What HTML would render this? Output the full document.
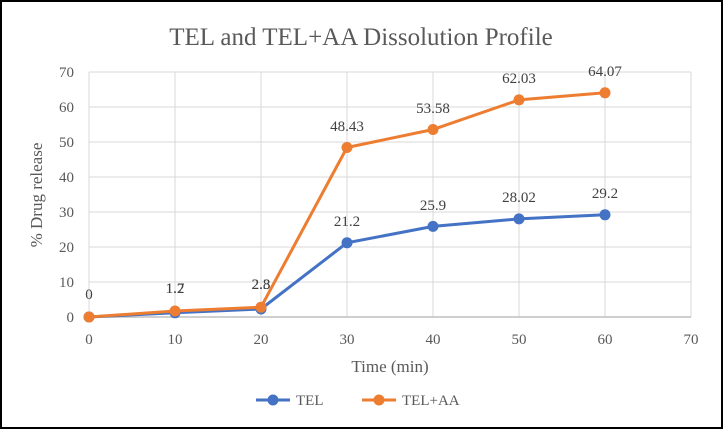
<!DOCTYPE html>
<html><head><meta charset="utf-8"><style>
html,body{margin:0;padding:0;background:#fff}
svg{display:block}
text{font-family:"Liberation Serif",serif}
</style></head><body>
<svg width="723" height="429" viewBox="0 0 723 429">
<rect x="1" y="1" width="721" height="427" fill="#fff" stroke="#000" stroke-width="2"/>
<text x="361" y="45" font-size="25" fill="#595959" text-anchor="middle">TEL and TEL+AA Dissolution Profile</text>
<g stroke="#d9d9d9" stroke-width="1">
<line x1="89" y1="72" x2="691" y2="72"/><line x1="89" y1="107" x2="691" y2="107"/>
<line x1="89" y1="142" x2="691" y2="142"/><line x1="89" y1="177" x2="691" y2="177"/>
<line x1="89" y1="212" x2="691" y2="212"/><line x1="89" y1="247" x2="691" y2="247"/>
<line x1="89" y1="282" x2="691" y2="282"/>
<line x1="89" y1="72" x2="89" y2="317"/><line x1="175" y1="72" x2="175" y2="317"/>
<line x1="261" y1="72" x2="261" y2="317"/><line x1="347" y1="72" x2="347" y2="317"/>
<line x1="433" y1="72" x2="433" y2="317"/><line x1="519" y1="72" x2="519" y2="317"/>
<line x1="605" y1="72" x2="605" y2="317"/><line x1="691" y1="72" x2="691" y2="317"/>
</g>
<line x1="89" y1="317" x2="691" y2="317" stroke="#bfbfbf" stroke-width="1.5"/>
<g font-size="15" fill="#595959" text-anchor="end">
<text x="74" y="322">0</text><text x="74" y="287">10</text><text x="74" y="252">20</text>
<text x="74" y="217">30</text><text x="74" y="182">40</text><text x="74" y="147">50</text>
<text x="74" y="112">60</text><text x="74" y="77">70</text>
</g>
<g font-size="15" fill="#595959" text-anchor="middle">
<text x="89" y="344">0</text><text x="175" y="344">10</text><text x="261" y="344">20</text>
<text x="347" y="344">30</text><text x="433" y="344">40</text><text x="519" y="344">50</text>
<text x="605" y="344">60</text><text x="691" y="344">70</text>
</g>
<text x="390" y="372" font-size="17" fill="#595959" text-anchor="middle">Time (min)</text>
<text transform="translate(42,195) rotate(-90)" font-size="17" fill="#595959" text-anchor="middle">% Drug release</text>
<polyline fill="none" stroke="#4472c4" stroke-width="3" points="89,317 175,312.8 261,309 347,242.8 433,226.4 519,218.9 605,214.8"/>
<g fill="#4472c4">
<circle cx="89" cy="317" r="5.5"/><circle cx="175" cy="312.8" r="5.5"/><circle cx="261" cy="309" r="5.5"/>
<circle cx="347" cy="242.8" r="5.5"/><circle cx="433" cy="226.4" r="5.5"/><circle cx="519" cy="218.9" r="5.5"/><circle cx="605" cy="214.8" r="5.5"/>
</g>
<polyline fill="none" stroke="#ed7d31" stroke-width="3" points="89,317 175,311 261,307.2 347,147.5 433,129.5 519,99.9 605,92.8"/>
<g fill="#ed7d31">
<circle cx="89" cy="317" r="5.5"/><circle cx="175" cy="311" r="5.5"/><circle cx="261" cy="307.2" r="5.5"/>
<circle cx="347" cy="147.5" r="5.5"/><circle cx="433" cy="129.5" r="5.5"/><circle cx="519" cy="99.9" r="5.5"/><circle cx="605" cy="92.8" r="5.5"/>
</g>
<g font-size="15" fill="#404040" text-anchor="middle">
<text x="89" y="299">0</text><text x="175" y="293">1.2</text><text x="175" y="293">1.7</text>
<text x="261" y="289">2.3</text><text x="261" y="289">2.8</text>
<text x="347" y="226">21.2</text><text x="433" y="210">25.9</text><text x="519" y="202">28.02</text><text x="605" y="198">29.2</text>
<text x="347" y="131">48.43</text><text x="433" y="113">53.58</text><text x="519" y="83">62.03</text><text x="605" y="76">64.07</text>
</g>
<line x1="256" y1="400" x2="290" y2="400" stroke="#4472c4" stroke-width="3"/><circle cx="273" cy="400" r="5.5" fill="#4472c4"/>
<text x="296" y="405" font-size="15" fill="#595959">TEL</text>
<line x1="362" y1="400" x2="396" y2="400" stroke="#ed7d31" stroke-width="3"/><circle cx="379" cy="400" r="5.5" fill="#ed7d31"/>
<text x="402" y="405" font-size="15" fill="#595959">TEL+AA</text>
</svg>
</body></html>
